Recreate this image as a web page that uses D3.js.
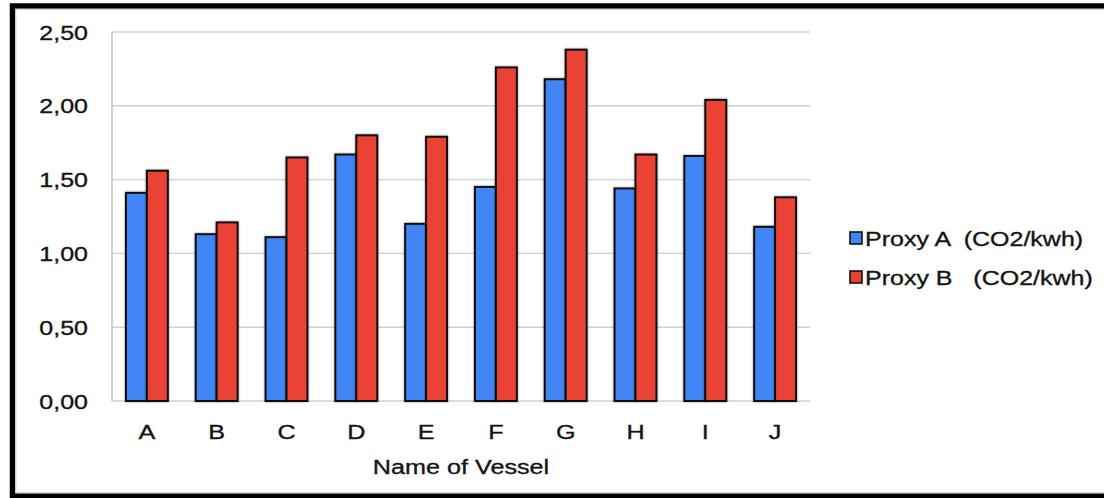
<!DOCTYPE html>
<html>
<head>
<meta charset="utf-8">
<script src="https://cdn.jsdelivr.net/npm/d3@7"></script>
<style>
  html, body { margin: 0; padding: 0; background: #fff; }
  svg { display: block; }
  text { font-family: "Liberation Sans", Arial, Helvetica, sans-serif; fill: #141414; stroke: #141414; stroke-width: 0.35px; }
</style>
</head>
<body>
<svg id="chart" width="1104" height="498"></svg>
<script>
// Vessel names and the two CO2 proxies per vessel
const vessels = ["A", "B", "C", "D", "E", "F", "G", "H", "I", "J"];
const proxyA = [1.41, 1.13, 1.11, 1.67, 1.20, 1.45, 2.18, 1.44, 1.66, 1.18];
const proxyB = [1.56, 1.21, 1.65, 1.80, 1.79, 2.26, 2.38, 1.67, 2.04, 1.38];
const seriesNames = ["Proxy A  (CO2/kwh)", "Proxy B   (CO2/kwh)"];
const seriesColors = ["#4285f4", "#ea4335"];
const yTicks = [0, 0.5, 1, 1.5, 2, 2.5];
const xTitle = "Name of Vessel";

const svg = d3.select("#chart");
const plot = { left: 112, right: 810, top: 32, bottom: 401 };
const stretch = 1.2; // text is drawn slightly wide

// outer frame
svg.append("rect")
  .attr("x", 12.5).attr("y", 6).attr("width", 1100).attr("height", 490)
  .attr("fill", "#fff").attr("stroke", "#000").attr("stroke-width", 5.5);
svg.append("rect")
  .attr("x", 15.8).attr("y", 9.3).attr("width", 1100).attr("height", 483.5)
  .attr("fill", "none").attr("stroke", "#c4d6ec").attr("stroke-width", 1.2);

const x = d3.scaleBand().domain(vessels).range([plot.left, plot.right]).paddingInner(0).paddingOuter(0);
const inner = d3.scaleBand().domain([0, 1]).range([0, x.bandwidth() * 0.6]);
const y = d3.scaleLinear().domain([0, 2.5]).range([plot.bottom, plot.top]);

const fmt = v => d3.format(".2f")(v).replace(".", ",");

// horizontal gridlines
svg.append("g")
  .selectAll("line").data(yTicks).join("line")
  .attr("x1", plot.left).attr("x2", plot.right)
  .attr("y1", d => y(d)).attr("y2", d => y(d))
  .attr("stroke", "#d0d0d0").attr("stroke-width", 1.4);

// left axis line
svg.append("line")
  .attr("x1", plot.left).attr("x2", plot.left)
  .attr("y1", plot.top).attr("y2", plot.bottom)
  .attr("stroke", "#bdbdbd").attr("stroke-width", 1.4);

// y tick labels
svg.append("g")
  .selectAll("text").data(yTicks).join("text")
  .attr("transform", d => `translate(88,${y(d) + 7.5}) scale(1.22,1)`)
  .attr("text-anchor", "end")
  .attr("font-size", 20.5)
  .text(fmt);

// bars with a soft dark halo
const shadow = svg.append("defs").append("filter").attr("id", "soft")
  .attr("x", "-20%").attr("y", "-20%").attr("width", "140%").attr("height", "140%");
shadow.append("feGaussianBlur").attr("in", "SourceAlpha").attr("stdDeviation", 1).attr("result", "b");
shadow.append("feFlood").attr("flood-color", "#000").attr("flood-opacity", 0.45);
shadow.append("feComposite").attr("in2", "b").attr("operator", "in").attr("result", "s");
const mg = shadow.append("feMerge");
mg.append("feMergeNode").attr("in", "s");
mg.append("feMergeNode").attr("in", "SourceGraphic");

const series = [proxyA, proxyB];
const groupW = x.bandwidth() * 0.6;
series.forEach((vals, si) => {
  svg.append("g").attr("filter", "url(#soft)")
    .selectAll("rect").data(vessels).join("rect")
    .attr("x", (d) => x(d) + (x.bandwidth() - groupW) / 2 + inner(si))
    .attr("y", (d, i) => y(vals[i]))
    .attr("width", inner.bandwidth())
    .attr("height", (d, i) => y(0) - y(vals[i]))
    .attr("fill", seriesColors[si])
    .attr("stroke", "#111").attr("stroke-width", 2);
});

// category labels
svg.append("g")
  .selectAll("text").data(vessels).join("text")
  .attr("transform", d => `translate(${x(d) + x.bandwidth() / 2},439) scale(${stretch},1)`)
  .attr("text-anchor", "middle")
  .attr("font-size", 21)
  .text(d => d);

// axis title
svg.append("text")
  .attr("transform", `translate(${(plot.left + plot.right) / 2},474) scale(${stretch},1)`)
  .attr("text-anchor", "middle")
  .attr("font-size", 21)
  .text(xTitle);

// legend
const leg = svg.append("g");
seriesNames.forEach((name, i) => {
  const ly = 232 + i * 39;
  leg.append("rect")
    .attr("x", 850).attr("y", ly).attr("width", 12).attr("height", 12)
    .attr("fill", seriesColors[i]).attr("stroke", "#111").attr("stroke-width", 1.6);
  leg.append("text")
    .attr("transform", `translate(865,${ly + 13.5}) scale(1.22,1)`)
    .attr("font-size", 20.5)
    .style("white-space", "pre")
    .text(name);
});
</script>
</body>
</html>
